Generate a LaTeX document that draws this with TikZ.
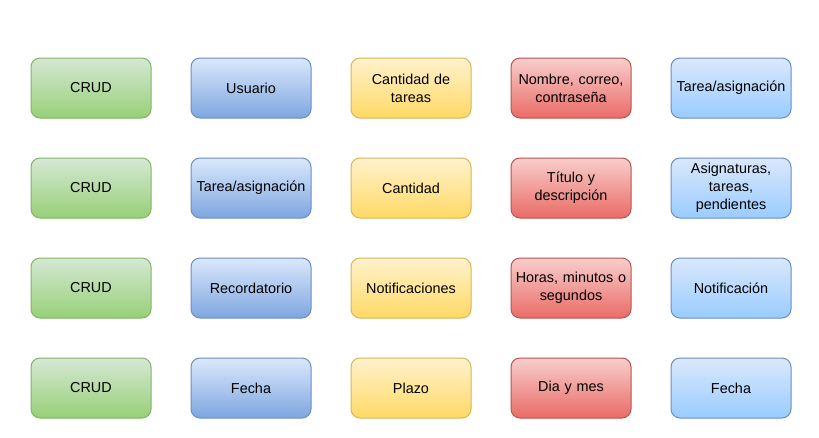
\documentclass[tikz,border=0pt]{standalone}
\usepackage{fontspec}
\setmainfont{Liberation Sans}
\definecolor{gtop}{HTML}{D5E8D4}\definecolor{gbot}{HTML}{97D077}\definecolor{gdraw}{HTML}{82B366}
\definecolor{btop}{HTML}{DAE8FC}\definecolor{bbot}{HTML}{7EA6E0}\definecolor{bdraw}{HTML}{6C8EBF}
\definecolor{ytop}{HTML}{FFF2CC}\definecolor{ybot}{HTML}{FFD966}\definecolor{ydraw}{HTML}{D6B656}
\definecolor{rtop}{HTML}{F8CECC}\definecolor{rbot}{HTML}{EA6B66}\definecolor{rdraw}{HTML}{B85450}
\definecolor{ltop}{HTML}{DAE8FC}\definecolor{lbot}{HTML}{99CCFF}
\begin{document}
\begin{tikzpicture}[x=0.75pt,y=-0.75pt,
  box/.style={rounded corners=6.75pt,minimum width=90pt,minimum height=45pt,
    text width=84pt,align=center,inner sep=0pt,line width=0.75pt,
    font=\fontsize{10.8}{13.5}\selectfont},
  gbox/.style={box,draw=gdraw,top color=gtop,bottom color=gbot},
  bbox/.style={box,draw=bdraw,top color=btop,bottom color=bbot},
  ybox/.style={box,draw=ydraw,top color=ytop,bottom color=ybot},
  rbox/.style={box,draw=rdraw,top color=rtop,bottom color=rbot},
  lbox/.style={box,draw=bdraw,top color=ltop,bottom color=lbot}]
\path[use as bounding box,fill=white] (0,0) rectangle (819,437);
% row 1
\node[gbox] (a1) at (91,88) {CRUD};
\node[bbox] (b1) at (251,88) {Usuario};
\node[ybox] (c1) at (411,88) {Cantidad de\\tareas};
\node[rbox] (d1) at (571,88) {Nombre, correo,\\contraseña};
\node[lbox] (e1) at (731,88) {Tarea/asignación};
% row 2
\node[gbox] (a2) at (91,188) {CRUD};
\node[bbox] (b2) at (251,188) {Tarea/asignación};
\node[ybox] (c2) at (411,188) {Cantidad};
\node[rbox] (d2) at (571,188) {Título y\\descripción};
\node[lbox] (e2) at (731,188) {Asignaturas,\\tareas,\\pendientes};
% row 3
\node[gbox] (a3) at (91,288) {CRUD};
\node[bbox] (b3) at (251,288) {Recordatorio};
\node[ybox] (c3) at (411,288) {Notificaciones};
\node[rbox] (d3) at (571,288) {Horas, minutos o\\segundos};
\node[lbox] (e3) at (731,288) {Notificación};
% row 4
\node[gbox] (a4) at (91,388) {CRUD};
\node[bbox] (b4) at (251,388) {Fecha};
\node[ybox] (c4) at (411,388) {Plazo};
\node[rbox] (d4) at (571,388) {Dia y mes};
\node[lbox] (e4) at (731,388) {Fecha};
\end{tikzpicture}
\end{document}
